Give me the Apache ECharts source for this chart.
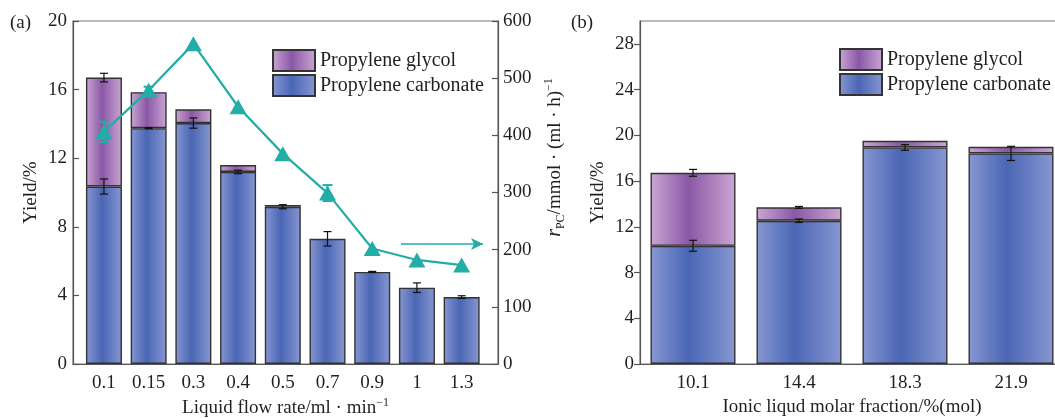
<!DOCTYPE html>
<html>
<head>
<meta charset="utf-8">
<script src="https://cdn.jsdelivr.net/npm/echarts@6/dist/echarts.min.js"></script>
<style>
  html, body { margin: 0; padding: 0; background: #fff; }
  #chart { width: 1055px; height: 418px; }
</style>
</head>
<body>
<div id="chart"></div>
<script>
// ---- Panel (a): effect of liquid flow rate ----
const flowRates = ['0.1', '0.15', '0.3', '0.4', '0.5', '0.7', '0.9', '1', '1.3'];
const pcYieldA  = [10.35, 13.75, 14.05, 11.2, 9.17, 7.3, 5.37, 4.45, 3.9];   // propylene carbonate, %
const pcErrA    = [0.44, 0.03, 0.3, 0.1, 0.12, 0.42, 0.03, 0.28, 0.08];
const pgYieldA  = [6.35, 2.1, 0.8, 0.4, 0.1, null, null, null, null];       // propylene glycol, %
const totErrA   = [0.25, 0, 0, 0, 0, 0, 0, 0, 0];
const ratePC    = [406, 479, 560, 450, 368, 299, 202, 182, 173];             // r_PC, mmol/(ml·h)
const rateErr   = [18, 6, 0, 0, 0, 14, 0, 0, 0];

// ---- Panel (b): effect of ionic liquid molar fraction ----
const ilFractions = ['10.1', '14.4', '18.3', '21.9'];
const pcYieldB  = [10.34, 12.53, 18.94, 18.42];
const pcErrB    = [0.48, 0.15, 0.25, 0.62];
const pgYieldB  = [6.38, 1.17, 0.58, 0.58];
const totErrB   = [0.3, 0.08, 0, 0];

// axis ranges
const yieldAxisA = { min: 0, max: 20, interval: 4 };
const rateAxisA  = { min: 0, max: 600, interval: 100 };
const yieldAxisB = { min: 0, max: 30, interval: 4 };

const FONT = "'Liberation Serif', 'Times New Roman', serif";
const TEXT = '#231f20';
const AXIS = '#555';
const TEAL = '#22ada6';

function barGradient(edge, mid) {
  return new echarts.graphic.LinearGradient(0, 0, 1, 0, [
    { offset: 0, color: edge },
    { offset: 0.45, color: mid },
    { offset: 1, color: edge }
  ]);
}
const pcColor = barGradient('#8797d2', '#4a66b4');
const pgColor = barGradient('#cba6d3', '#8a58a6');

function errData(values, errs) {
  return values.map((v, i) => [i, v, errs[i]]);
}
function sumArrays(a, b) {
  return a.map((v, i) => v + (b[i] || 0));
}
function makeErrRender(color, cap, width) {
  return function (params, api) {
    const i = api.value(0), v = api.value(1), e = api.value(2);
    if (!e) return;
    const hi = api.coord([i, v + e]);
    const lo = api.coord([i, v - e]);
    const style = { stroke: color, lineWidth: width, fill: null };
    return {
      type: 'group',
      children: [
        { type: 'line', shape: { x1: hi[0], y1: hi[1], x2: lo[0], y2: lo[1] }, style },
        { type: 'line', shape: { x1: hi[0] - cap, y1: hi[1], x2: hi[0] + cap, y2: hi[1] }, style },
        { type: 'line', shape: { x1: lo[0] - cap, y1: lo[1], x2: lo[0] + cap, y2: lo[1] }, style }
      ]
    };
  };
}

const axisLine = { show: true, lineStyle: { color: AXIS, width: 1.2 } };
const tickLabel = { color: TEXT, fontFamily: FONT, fontSize: 19 };
const nameStyle = { color: TEXT, fontFamily: FONT, fontSize: 19 };

const chart = echarts.init(document.getElementById('chart'), null, { renderer: 'canvas' });

const legendCommon = {
  orient: 'vertical',
  icon: 'rect',
  itemWidth: 42,
  itemHeight: 21,
  itemGap: 2,
  padding: 0,
  selectedMode: false,
  textStyle: { color: TEXT, fontFamily: FONT, fontSize: 20 },
  data: ['Propylene glycol', 'Propylene carbonate']
};

const gridBase = { top: 21, height: 343, containLabel: false, outerBoundsMode: 'none' };

chart.setOption({
  animation: false,
  backgroundColor: '#fff',
  graphic: [
    { type: 'text', left: 10, top: 14, style: { text: '(a)', font: `19px ${FONT}`, fill: TEXT } },
    { type: 'text', left: 571, top: 14, style: { text: '(b)', font: `19px ${FONT}`, fill: TEXT } }
  ],
  legend: [
    Object.assign({ left: 272, top: 49 }, legendCommon),
    Object.assign({ left: 839, top: 48 }, legendCommon)
  ],
  grid: [
    // frame of panel (a)
    Object.assign({ left: 73, width: 425, show: true, borderColor: '#777', borderWidth: 1.2 }, gridBase),
    // bar area of panel (a)
    Object.assign({ left: 81.6, width: 402.4 }, gridBase),
    // panel (b)
    Object.assign({ left: 640, width: 424, show: true, borderColor: '#777', borderWidth: 1.2 }, gridBase)
  ],
  xAxis: [
    {
      gridIndex: 0, type: 'value', min: 0, max: 1,
      axisLine, axisTick: { show: false }, axisLabel: { show: false }, splitLine: { show: false },
      name: '{t|Liquid flow rate/ml · min}{s|−1}',
      nameLocation: 'middle', nameGap: 33,
      nameTextStyle: {
        rich: {
          t: { fontFamily: FONT, fontSize: 19, color: TEXT, lineHeight: 22 },
          s: { fontFamily: FONT, fontSize: 12, color: TEXT, verticalAlign: 'top', lineHeight: 22 }
        }
      }
    },
    {
      gridIndex: 1, type: 'category', data: flowRates,
      axisLine: { show: false }, axisTick: { show: false },
      axisLabel: Object.assign({ margin: 10 }, tickLabel)
    },
    {
      gridIndex: 2, type: 'category', data: ilFractions,
      axisLine, axisTick: { show: false },
      axisLabel: Object.assign({ margin: 10 }, tickLabel),
      name: 'Ionic liqud molar fraction/%(mol)',
      nameLocation: 'middle', nameGap: 33, nameTextStyle: nameStyle
    }
  ],
  yAxis: [
    {
      gridIndex: 0, type: 'value', position: 'left',
      min: yieldAxisA.min, max: yieldAxisA.max, interval: yieldAxisA.interval,
      axisLine, axisTick: { show: true, inside: true, length: 6, lineStyle: { color: AXIS, width: 1.2 } },
      axisLabel: Object.assign({ margin: 6 }, tickLabel), splitLine: { show: false },
      name: 'Yield/%', nameLocation: 'middle', nameGap: 32, nameRotate: 90, nameTextStyle: nameStyle
    },
    {
      gridIndex: 0, type: 'value', position: 'right',
      min: rateAxisA.min, max: rateAxisA.max, interval: rateAxisA.interval,
      axisLine, axisTick: { show: true, inside: true, length: 6, lineStyle: { color: AXIS, width: 1.2 } },
      axisLabel: Object.assign({ margin: 5 }, tickLabel), splitLine: { show: false },
      name: '{i|r}{b|PC}{t|/mmol · (ml · h)}{s|−1}',
      nameLocation: 'middle', nameGap: 45, nameRotate: 90,
      nameTextStyle: {
        padding: [0, 0, 0, 70],
        rich: {
          i: { fontFamily: FONT, fontSize: 20, fontStyle: 'italic', color: TEXT, lineHeight: 24 },
          b: { fontFamily: FONT, fontSize: 12, color: TEXT, verticalAlign: 'bottom', lineHeight: 24 },
          t: { fontFamily: FONT, fontSize: 19, color: TEXT, lineHeight: 24 },
          s: { fontFamily: FONT, fontSize: 12, color: TEXT, verticalAlign: 'top', lineHeight: 24 }
        }
      }
    },
    {
      gridIndex: 1, type: 'value', show: false,
      min: yieldAxisA.min, max: yieldAxisA.max, splitLine: { show: false }
    },
    {
      gridIndex: 1, type: 'value', show: false,
      min: rateAxisA.min, max: rateAxisA.max, splitLine: { show: false }
    },
    {
      gridIndex: 2, type: 'value',
      min: yieldAxisB.min, max: yieldAxisB.max, interval: yieldAxisB.interval,
      axisLine, axisTick: { show: true, length: 6, lineStyle: { color: AXIS, width: 1.2 } },
      axisLabel: Object.assign({ margin: 6, showMaxLabel: false }, tickLabel), splitLine: { show: false },
      name: 'Yield/%', nameLocation: 'middle', nameGap: 32, nameRotate: 90, nameTextStyle: nameStyle
    }
  ],
  series: [
    // ---- panel (a) bars ----
    {
      name: 'Propylene carbonate', type: 'bar', stack: 'a', xAxisIndex: 1, yAxisIndex: 2,
      barWidth: 36, data: pcYieldA,
      itemStyle: { color: pcColor, borderColor: '#333', borderWidth: 1.4 }
    },
    {
      name: 'Propylene glycol', type: 'bar', stack: 'a', xAxisIndex: 1, yAxisIndex: 2,
      barWidth: 36, data: pgYieldA,
      itemStyle: { color: pgColor, borderColor: '#333', borderWidth: 1.4 }
    },
    {
      type: 'custom', xAxisIndex: 1, yAxisIndex: 2, silent: true, z: 3,
      renderItem: makeErrRender('#111', 4, 1.2), data: errData(pcYieldA, pcErrA)
    },
    {
      type: 'custom', xAxisIndex: 1, yAxisIndex: 2, silent: true, z: 3,
      renderItem: makeErrRender('#111', 4, 1.2), data: errData(sumArrays(pcYieldA, pgYieldA), totErrA)
    },
    // ---- panel (a) reaction rate ----
    {
      type: 'custom', xAxisIndex: 1, yAxisIndex: 3, silent: true, z: 4,
      renderItem: makeErrRender(TEAL, 5, 2), data: errData(ratePC, rateErr)
    },
    {
      name: 'rPC', type: 'line', xAxisIndex: 1, yAxisIndex: 3, z: 5,
      data: ratePC,
      symbol: 'triangle', symbolSize: [17, 15],
      lineStyle: { color: TEAL, width: 2.2 },
      itemStyle: { color: TEAL },
      markLine: {
        silent: true, symbol: ['none', 'arrow'], symbolSize: [9, 12],
        lineStyle: { color: TEAL, width: 1.6, type: 'solid' },
        label: { show: false },
        data: [[{ x: 401, y: 244 }, { x: 483, y: 244 }]]
      }
    },
    // ---- panel (b) bars ----
    {
      name: 'Propylene carbonate', type: 'bar', stack: 'b', xAxisIndex: 2, yAxisIndex: 4,
      barWidth: 85, data: pcYieldB,
      itemStyle: { color: pcColor, borderColor: '#333', borderWidth: 1.4 }
    },
    {
      name: 'Propylene glycol', type: 'bar', stack: 'b', xAxisIndex: 2, yAxisIndex: 4,
      barWidth: 85, data: pgYieldB,
      itemStyle: { color: pgColor, borderColor: '#333', borderWidth: 1.4 }
    },
    {
      type: 'custom', xAxisIndex: 2, yAxisIndex: 4, silent: true, z: 3,
      renderItem: makeErrRender('#111', 4, 1.2), data: errData(pcYieldB, pcErrB)
    },
    {
      type: 'custom', xAxisIndex: 2, yAxisIndex: 4, silent: true, z: 3,
      renderItem: makeErrRender('#111', 4, 1.2), data: errData(sumArrays(pcYieldB, pgYieldB), totErrB)
    }
  ]
});
</script>
</body>
</html>
